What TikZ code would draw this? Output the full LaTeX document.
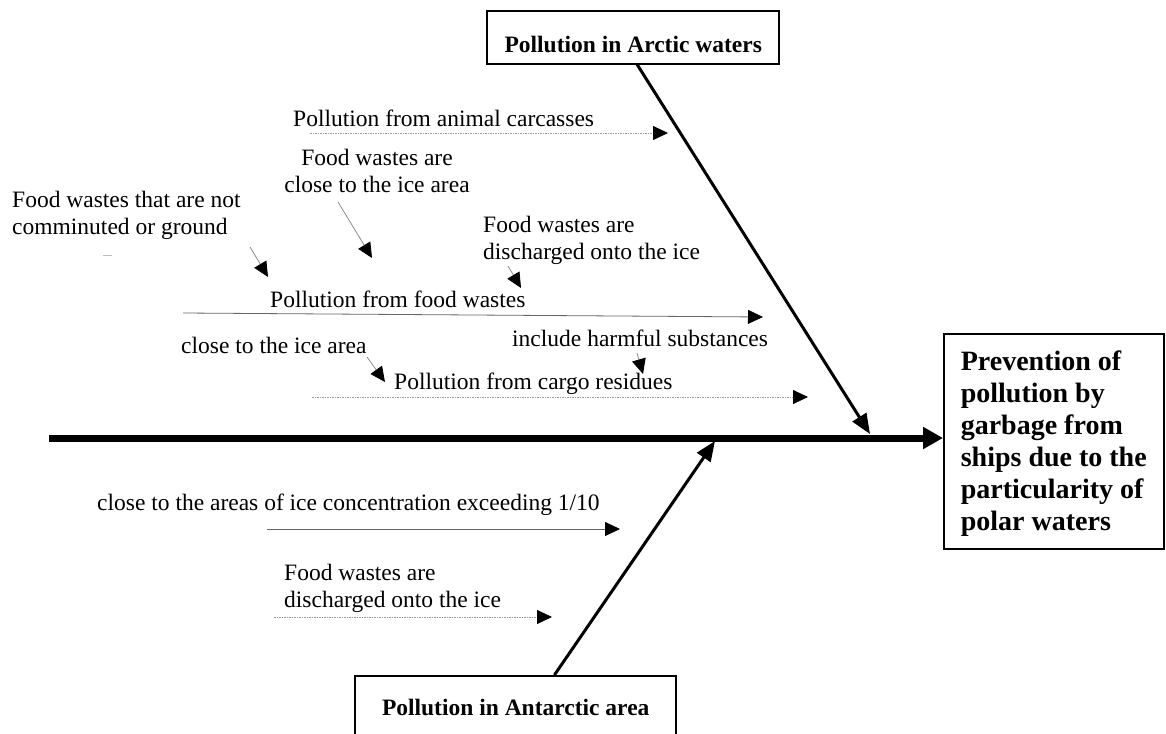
\documentclass[tikz,border=0pt]{standalone}
\usepackage{fontspec}
\setmainfont{Liberation Serif}
\usetikzlibrary{arrows.meta,calc}

% invisible strut that fixes the height of a first text line
\newcommand\firstline[1]{\rule{0pt}{#1}}

\begin{document}
\begin{tikzpicture}[x=1pt,y=-1pt,
  lbl/.style={inner sep=0pt, font=\fontsize{23.5}{27}\selectfont},
  mlbl/.style={lbl, anchor=north west, align=left},
  boxlbl/.style={draw, line width=1.6pt, inner sep=0pt, align=center,
                 font=\fontsize{23.5}{27}\selectfont\bfseries},
  twig/.style={line width=0.8pt, draw=black!60,
               -{Triangle[length=15pt,width=14pt,color=black]}},
  dottwig/.style={twig, draw=black!40, dash pattern=on 1.5pt off 1pt},
  bone/.style={line width=3pt, -{Triangle[length=20pt,width=16pt]}},
]
\fill[white] (0,0) rectangle (1166,733);
\useasboundingbox (0,0) rectangle (1166,733);

% ---- effect box ----
\node[draw, line width=1.6pt, anchor=north west, inner xsep=17pt, inner ysep=0pt,
      minimum height=215pt, align=left,
      font=\fontsize{28}{32}\selectfont\bfseries] (goal) at (943,333)
  {\firstline{25pt}Prevention of\\pollution by\\garbage from\\ships due to the\\particularity of\\polar waters};

% ---- main spine ----
\coordinate (spinestart) at (49,438);
\draw[line width=7pt, -{Triangle[length=20pt,width=21pt]}] (spinestart) -- (spinestart -| goal.west);

% ---- category boxes ----
\node[boxlbl, anchor=north east, minimum width=292pt, text height=42pt, text depth=11pt]
  (arctic) at (780,10) {Pollution in Arctic waters};
\node[boxlbl, anchor=north east, minimum width=321pt, text height=40pt, text depth=40pt]
  (antarctic) at (677,675) {Pollution in Antarctic area};

% ---- main bones ----
\coordinate (arcjoin) at (870,434);
\coordinate (antjoin) at (715,441);
\draw[bone] ($(arctic.south)+(4,0)$) -- (arcjoin);
\draw[bone] ($(antarctic.north west)!0.62!(antarctic.north east)$) -- (antjoin);

% ---- Arctic causes ----
\node[lbl, anchor=base west] (carc) at (293,127) {Pollution from animal carcasses};
\coordinate (carcA) at (310,133); \coordinate (carcB) at (668,133);
\draw[dottwig] (carcA) -- (carcB);

\node[lbl, anchor=north, align=center] (nearice) at (377,148)
  {\firstline{17pt}Food wastes are\\close to the ice area};
\coordinate (niA) at (338,202); \coordinate (niB) at (372,258);
\draw[twig, draw=black!45] (niA) -- (niB);

\node[mlbl] (ground) at (12,190)
  {\firstline{17pt}Food wastes that are not\\comminuted or ground};
\coordinate (grA) at (250,247); \coordinate (grB) at (268,277);
\draw[twig, draw=black!45] (grA) -- (grB);
\draw[black!25, line width=0.8pt] (103,255) -- (112,255);

\node[mlbl] (ontoice) at (483,215)
  {\firstline{17pt}Food wastes are\\discharged onto the ice};
\coordinate (oiA) at (508,266); \coordinate (oiB) at (521,288);
\draw[twig, draw=black!45] (oiA) -- (oiB);

\node[lbl, anchor=base west] (food) at (270,307) {Pollution from food wastes};
\coordinate (fdA) at (183,313); \coordinate (fdB) at (763,317);
\draw[twig] (fdA) -- (fdB);

\node[lbl, anchor=base west] (closeice) at (181,353) {close to the ice area};
\coordinate (ciA) at (367,357); \coordinate (ciB) at (385,382);
\draw[twig, draw=black!45] (ciA) -- (ciB);

\node[lbl, anchor=base west] (harm) at (512,346) {include harmful substances};
\coordinate (hmA) at (637,353); \coordinate (hmB) at (643,374);
\draw[twig, draw=black!45] (hmA) -- (hmB);

\node[lbl, anchor=base west] (cargo) at (394,389) {Pollution from cargo residues};
\coordinate (cgA) at (312,397); \coordinate (cgB) at (808,397);
\draw[dottwig] (cgA) -- (cgB);

% ---- Antarctic causes ----
\node[lbl, anchor=base west] (conc) at (97,510)
  {close to the areas of ice concentration exceeding 1/10};
\coordinate (ccA) at (267,529); \coordinate (ccB) at (620,529);
\draw[twig] (ccA) -- (ccB);

\node[mlbl] (antice) at (284,563)
  {\firstline{17pt}Food wastes are\\discharged onto the ice};
\coordinate (aiA) at (274,617); \coordinate (aiB) at (552,617);
\draw[dottwig] (aiA) -- (aiB);
\end{tikzpicture}
\end{document}
